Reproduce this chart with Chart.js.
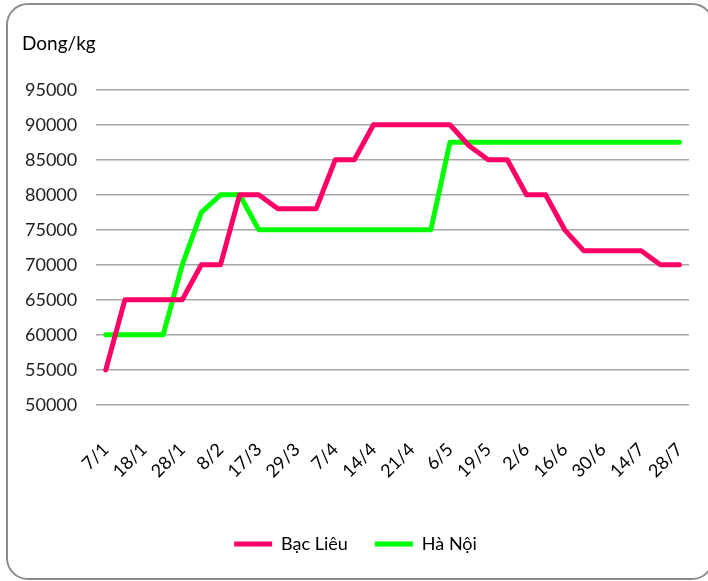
<!DOCTYPE html>
<html>
<head>
<meta charset="utf-8">
<script src="https://cdn.jsdelivr.net/npm/chart.js@4"></script>
<style>
	html, body { margin: 0; padding: 0; background: #fff; overflow: hidden; }
	#wrap { position: relative; width: 708px; height: 581px; overflow: hidden; }
	#frame {
		position: absolute; left: 6px; top: 3px; width: 708px; height: 577px;
		border: 2px solid #8c8c8c; border-radius: 22px; box-sizing: border-box;
	}
	canvas { position: absolute; left: 0; top: 0; }
</style>
</head>
<body>
<div id="wrap">
	<div id="frame"></div>
	<canvas id="chart" width="708" height="581"></canvas>
</div>
<script>
// tick labels are printed on every other point
const dates = ['7/1', '18/1', '28/1', '8/2', '17/3', '29/3', '7/4', '14/4',
	'21/4', '6/5', '19/5', '2/6', '16/6', '30/6', '14/7', '28/7'];

const bacLieu = [55000, 65000, 65000, 65000, 65000, 70000, 70000, 80000, 80000, 78000,
	78000, 78000, 85000, 85000, 90000, 90000, 90000, 90000, 90000, 87000,
	85000, 85000, 80000, 80000, 75000, 72000, 72000, 72000, 72000, 70000, 70000];

const haNoi = [60000, 60000, 60000, 60000, 70000, 77500, 80000, 80000, 75000, 75000,
	75000, 75000, 75000, 75000, 75000, 75000, 75000, 75000, 87500, 87500,
	87500, 87500, 87500, 87500, 87500, 87500, 87500, 87500, 87500, 87500, 87500];

const categories = bacLieu.map((v, i) => (i % 2 === 0 ? dates[i / 2] : ''));

const FONT = 'Lato, "Open Sans", sans-serif';

function main() {
	const ctx = document.getElementById('chart');
	new Chart(ctx, {
		type: 'line',
		data: {
			labels: categories,
			datasets: [
				{
					label: 'Bạc Liêu',
					data: bacLieu,
					borderColor: '#ff0066',
					backgroundColor: '#ff0066',
					borderWidth: 5,
					borderJoinStyle: 'round',
					borderCapStyle: 'round',
					pointRadius: 0,
					tension: 0
				},
				{
					label: 'Hà Nội',
					data: haNoi,
					borderColor: '#00ff00',
					backgroundColor: '#00ff00',
					borderWidth: 5,
					borderJoinStyle: 'round',
					borderCapStyle: 'round',
					pointRadius: 0,
					tension: 0
				}
			]
		},
		options: {
			responsive: false,
			animation: false,
			layout: { padding: { left: 22, right: 19, top: 0, bottom: 18 } },
			plugins: {
				title: {
					display: true,
					text: 'Dong/kg',
					align: 'start',
					color: '#000',
					font: { family: FONT, size: 19, weight: 'normal' },
					padding: { top: 32, bottom: 35 }
				},
				legend: {
					position: 'bottom',
					labels: {
						color: '#000',
						font: { family: FONT, size: 18 },
						usePointStyle: true,
						pointStyle: 'line',
						pointStyleWidth: 38,
						padding: 27
					}
				},
				tooltip: { enabled: false }
			},
			scales: {
				x: {
					offset: true,
					grid: { display: false },
					border: { display: false },
					// rotated labels stay inside the y axis gutter, no extra side padding
					afterFit: (scale) => { scale.paddingLeft = 0; scale.paddingRight = 0; },
					ticks: {
						autoSkip: false,
						maxRotation: 45,
						minRotation: 45,
						color: '#000',
						padding: 26,
						font: { family: FONT, size: 18 }
					}
				},
				y: {
					min: 50000,
					max: 95000,
					grid: { color: '#a6a6a6', lineWidth: 1.5, drawTicks: false },
					border: { display: false },
					afterFit: (scale) => { scale.width -= 16; },
					ticks: {
						stepSize: 5000,
						color: '#222',
						padding: 19,
						font: { family: FONT, size: 18 },
						callback: (v) => String(v)
					}
				}
			}
		}
	});
}

document.addEventListener('DOMContentLoaded', main);
</script>
</body>
</html>
